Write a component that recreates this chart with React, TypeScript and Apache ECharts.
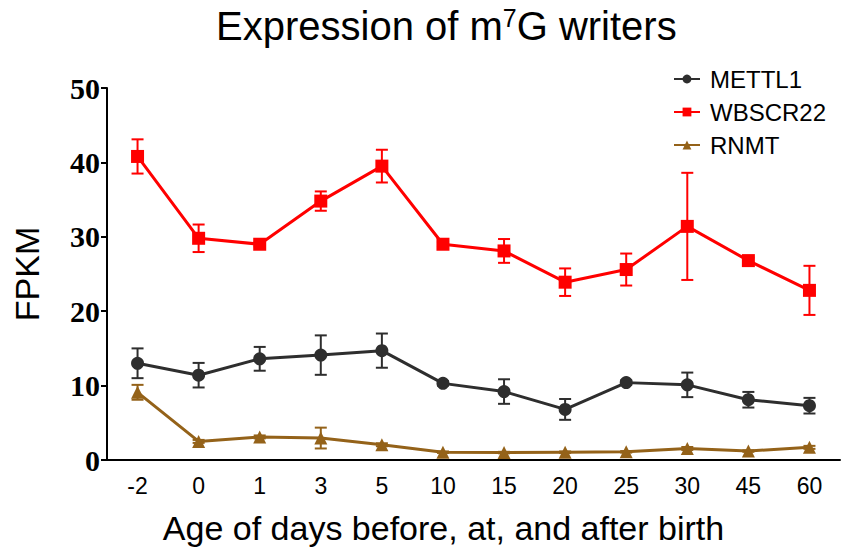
import React, { useEffect, useRef } from "react";
import * as echarts from "echarts";

const categories = ["-2", "0", "1", "3", "5", "10", "15", "20", "25", "30", "45", "60"];
const yTicks = [0, 10, 20, 30, 40, 50];

const mettl1 = [13.0, 11.4, 13.6, 14.1, 14.7, 10.3, 9.2, 6.8, 10.4, 10.1, 8.1, 7.3];
const mettl1Err = [2.0, 1.65, 1.6, 2.65, 2.3, 0.3, 1.65, 1.4, 0.3, 1.65, 1.05, 1.05];

const wbscr22 = [40.8, 29.8, 29.0, 34.8, 39.5, 29.0, 28.1, 23.9, 25.6, 31.4, 26.8, 22.8];
const wbscr22Err = [2.3, 1.85, 0.3, 1.3, 2.2, 0.3, 1.6, 1.85, 2.15, 7.2, 0.4, 3.3];

const rnmt = [9.1, 2.5, 3.1, 2.95, 2.05, 1.05, 1.0, 1.05, 1.1, 1.55, 1.2, 1.7];
const rnmtErr = [1.0, 0.2, 0.2, 1.4, 0.2, 0.1, 0.1, 0.1, 0.1, 0.2, 0.1, 0.2];

const seriesNames = ["METTL1", "WBSCR22", "RNMT"];
const colors = ["#2e2e2e", "#ff0000", "#946219"];
const symbols = ["circle", "rect", "triangle"];

const SANS = "Liberation Sans, Arial, Helvetica, sans-serif";
const SERIF = "Liberation Serif, Times New Roman, serif";

function errData(vals: number[], errs: number[]) {
  return vals.map((v, i) => [i, v - errs[i], v + errs[i]]);
}

function errSeries(name: string, color: string, vals: number[], errs: number[]) {
  return {
    name: name + "-err",
    type: "custom",
    data: errData(vals, errs),
    z: 1,
    renderItem: (params: any, api: any) => {
      const lo = api.coord([api.value(0), api.value(1)]);
      const hi = api.coord([api.value(0), api.value(2)]);
      const hw = 6;
      const style = { stroke: color, lineWidth: 2, fill: "none" };
      return {
        type: "group",
        children: [
          { type: "line", shape: { x1: lo[0], y1: lo[1], x2: hi[0], y2: hi[1] }, style },
          { type: "line", shape: { x1: lo[0] - hw, y1: lo[1], x2: lo[0] + hw, y2: lo[1] }, style },
          { type: "line", shape: { x1: hi[0] - hw, y1: hi[1], x2: hi[0] + hw, y2: hi[1] }, style },
        ],
      };
    },
  };
}

export default function App() {
  const ref = useRef<HTMLDivElement>(null);
  useEffect(() => {
    document.body.style.margin = "0";
    if (!ref.current) return;
    const chart = echarts.init(ref.current, undefined, { renderer: "svg" });
    const values = [mettl1, wbscr22, rnmt];
    const errs = [mettl1Err, wbscr22Err, rnmtErr];
    const lineSeries = seriesNames.map((n, i) => ({
      name: n,
      type: "line",
      data: values[i],
      symbol: symbols[i],
      symbolSize: 13,
      showAllSymbol: true,
      z: 3,
      lineStyle: { color: colors[i], width: 3 },
      itemStyle: { color: colors[i] },
    }));
    const errorSeries = seriesNames.map((n, i) => errSeries(n, colors[i], values[i], errs[i]));
    chart.setOption({
      animation: false,
      backgroundColor: "#ffffff",
      title: {
        text: "Expression of m{sup|7}G writers",
        left: 211,
        top: 0,
        textStyle: {
          fontFamily: SANS,
          fontSize: 40,
          fontWeight: "normal",
          color: "#000",
          rich: {
            sup: { fontFamily: SANS, fontSize: 25, color: "#000", padding: [0, 0, 16, 0] },
          },
        },
      },
      legend: {
        data: seriesNames,
        orient: "vertical",
        right: 12,
        top: 62,
        itemWidth: 26,
        itemHeight: 11,
        itemGap: 9,
        textStyle: { fontFamily: SANS, fontSize: 24, color: "#000", padding: [0, 0, 0, 5] },
      },
      grid: { left: 107, right: 3, top: 88, bottom: 87, containLabel: false },
      xAxis: {
        type: "category",
        data: categories,
        boundaryGap: true,
        name: "Age of days before, at, and after birth",
        nameLocation: "middle",
        nameGap: 51,
        nameTextStyle: { fontFamily: SANS, fontSize: 34, color: "#000", padding: [0, 60, 0, 0] },
        axisLine: { lineStyle: { color: "#000", width: 2 } },
        axisTick: { alignWithLabel: true, length: 6, lineStyle: { color: "#000", width: 2 } },
        axisLabel: { fontFamily: SANS, fontSize: 23, color: "#000", margin: 14 },
        splitLine: { show: false },
      },
      yAxis: {
        type: "value",
        min: yTicks[0],
        max: yTicks[yTicks.length - 1],
        interval: 10,
        name: "FPKM",
        nameLocation: "middle",
        nameGap: 63,
        nameRotate: 90,
        nameTextStyle: { fontFamily: SANS, fontSize: 34, color: "#000" },
        axisLine: { show: true, lineStyle: { color: "#000", width: 2 } },
        axisTick: { show: true, length: 6, lineStyle: { color: "#000", width: 2 } },
        axisLabel: { fontFamily: SERIF, fontSize: 30, fontWeight: "bold", color: "#000", margin: 7 },
        splitLine: { show: false },
      },
      series: [...errorSeries, ...lineSeries],
    });
    return () => chart.dispose();
  }, []);
  return <div ref={ref} style={{ width: 843, height: 550 }} />;
}
